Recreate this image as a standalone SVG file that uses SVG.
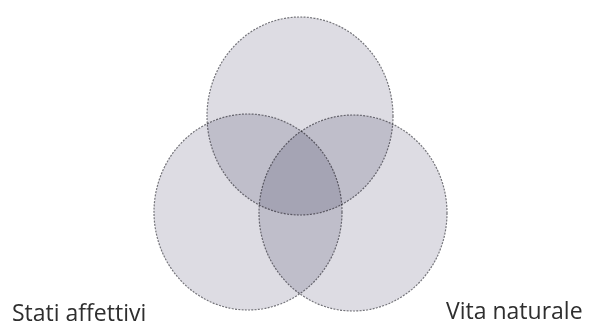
<svg xmlns="http://www.w3.org/2000/svg" width="592" height="327" viewBox="0 0 592 327">
<style>
.set{fill:#dddce3;stroke:#74747a;stroke-width:1.2;stroke-dasharray:2 1.3;mix-blend-mode:multiply}
.lbl{font-family:"Open Sans","Noto Sans",sans-serif;font-size:23px;fill:#2e2e2e}
</style>
<rect width="592" height="327" fill="#ffffff"/>
<g id="venn" style="isolation:isolate">
<g id="top-set"><ellipse class="set" cx="300" cy="116" rx="93" ry="99"/></g>
<g id="stati-affettivi"><ellipse class="set" cx="248" cy="212" rx="94" ry="98"/></g>
<g id="vita-naturale"><ellipse class="set" cx="353" cy="213" rx="94" ry="98"/></g>
</g>
<g id="connectors"></g>
<text class="lbl" x="12" y="321">Stati affettivi</text>
<text class="lbl" x="446" y="319">Vita naturale</text>
</svg>
